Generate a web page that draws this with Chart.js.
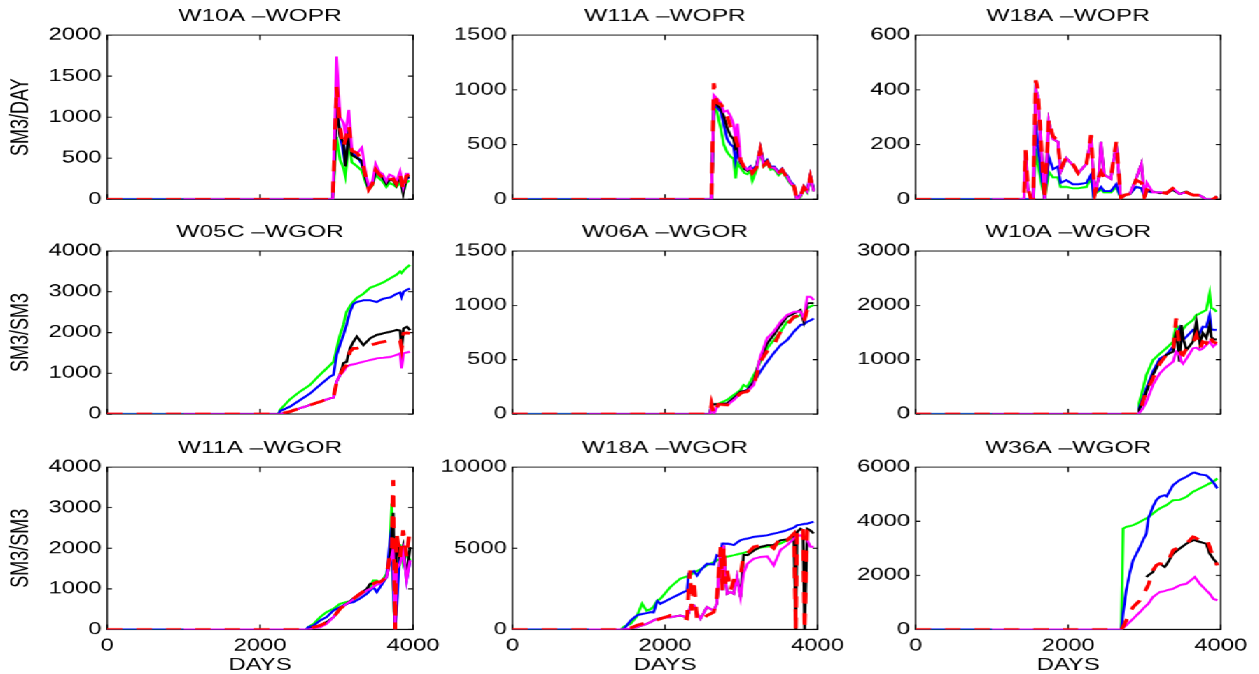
<!DOCTYPE html>
<html>
<head>
<meta charset="utf-8">
<title>WOPR / WGOR</title>
<script src="https://cdn.jsdelivr.net/npm/chart.js@4.4.1/dist/chart.umd.min.js"></script>
<style>
    html, body { margin: 0; padding: 0; background: #fff; overflow: hidden; }
    /* charts are laid out narrow and stretched sideways, like the printed plots */
    #sheet { position: absolute; left: 0; top: 0; width: 900px; height: 674px; transform: scaleX(1.4); transform-origin: 0 0; }
    #sheet canvas { position: absolute; }
</style>
</head>
<body>
<div id="sheet"></div>
<script>
// ============================================
// DATA (days, then one array per run colour)
// ============================================

const xTickValues = [0, 2000, 4000];

// W10A - WOPR
const w10aOprDays    = [0, 1000, 2950, 3000, 3045, 3090, 3115, 3160, 3200, 3270, 3330, 3380, 3420, 3470, 3510, 3560, 3600, 3650, 3690, 3740, 3780, 3830, 3870, 3910, 3950];
const w10aOprGreen   = [0, 0, 0, 760, 480, 380, 280, 700, 450, 400, 350, 200, 120, 170, 300, 250, 220, 150, 200, 180, 150, 210, 80, 200, 230];
const w10aOprBlue    = [0, 0, 0, 1170, 800, 560, 420, 850, 560, 520, 430, 260, 130, 200, 350, 290, 260, 200, 230, 250, 180, 280, 100, 240, 270];
const w10aOprBlack   = [null, 0, 0, 1120, 760, 700, 400, 800, 540, 500, 470, 250, 130, 180, 360, 300, 270, 190, 240, 230, 170, 300, 70, 260, 280];
const w10aOprRed     = [0, 0, 0, 1370, 870, 640, 720, 900, 590, 560, 480, 280, 120, 190, 360, 300, 270, 200, 240, 250, 190, 310, 110, 280, 300];
const w10aOprMagenta = [null, 0, 0, 1740, 1000, 930, 800, 1090, 600, 560, 630, 320, 160, 220, 430, 330, 310, 220, 300, 280, 210, 340, 150, 310, 310];

// W11A - WOPR
const w11aOprDays    = [0, 1000, 2610, 2640, 2680, 2730, 2770, 2815, 2860, 2900, 2925, 2950, 2990, 3040, 3080, 3120, 3145, 3200, 3250, 3295, 3340, 3385, 3430, 3490, 3535, 3560, 3600, 3645, 3690, 3730, 3775, 3820, 3865, 3905, 3950];
const w11aOprGreen   = [0, 0, 0, 850, 800, 650, 500, 430, 390, 370, 190, 330, 290, 240, 230, 260, 170, 270, 440, 300, 330, 270, 280, 220, 250, 230, 190, 140, 110, 0, 20, 100, 60, 200, 70];
const w11aOprBlue    = [0, 0, 0, 850, 840, 800, 680, 550, 500, 480, 350, 440, 330, 290, 270, 300, 270, 310, 470, 330, 360, 300, 300, 250, 280, 250, 220, 160, 130, 10, 40, 120, 80, 220, 90];
const w11aOprBlack   = [null, 0, 0, 900, 860, 830, 760, 650, 580, 550, 460, 470, 340, 280, 260, 290, 240, 300, 460, 320, 350, 290, 290, 240, 270, 240, 210, 150, 120, 0, 30, 110, 70, 210, 80];
const w11aOprRed     = [0, 0, 0, 1060, 880, 870, 830, 760, 660, 620, 560, 500, 360, 290, 260, 290, 240, 290, 450, 310, 340, 280, 290, 240, 270, 240, 200, 150, 120, 0, 30, 110, 70, 200, 70];
const w11aOprMagenta = [null, 0, 0, 950, 920, 880, 800, 810, 760, 680, 560, 690, 360, 300, 270, 290, 250, 290, 450, 310, 340, 290, 290, 240, 270, 240, 210, 150, 120, 0, 30, 110, 70, 210, 70];

// W18A - WOPR
const w18aOprDays    = [0, 1000, 1420, 1440, 1470, 1510, 1540, 1575, 1600, 1690, 1745, 1800, 1865, 1900, 1975, 2060, 2130, 2240, 2300, 2330, 2350, 2400, 2430, 2470, 2560, 2630, 2690, 2740, 2810, 2890, 2960, 3000, 3030, 3110, 3200, 3290, 3370, 3460, 3550, 3640, 3720, 3810, 3900, 3950];
const w18aOprGreen   = [0, 0, 0, 0, 0, 0, 0, 185, 130, 0, 100, 80, 80, 45, 45, 40, 40, 45, 80, 15, 20, 30, 35, 25, 25, 45, 5, 15, 20, 45, 40, 10, 30, 25, 25, 22, 35, 20, 25, 15, 15, 0, 0, 10];
const w18aOprBlue    = [0, 0, 0, 0, 0, 0, 0, 285, 200, 0, 155, 110, 120, 60, 70, 55, 55, 60, 90, 15, 25, 35, 45, 30, 30, 55, 5, 15, 20, 45, 40, 10, 30, 25, 25, 22, 35, 20, 25, 15, 15, 0, 0, 10];
const w18aOprBlack   = [null, 0, 0, 170, 40, 0, 0, 400, 380, 0, 285, 220, 210, 100, 150, 125, 95, 130, 225, 80, 20, 80, 210, 90, 75, 205, 5, 15, 20, 75, 130, 10, 35, 28, 22, 25, 35, 20, 28, 15, 15, 0, 0, 10];
const w18aOprRed     = [0, 0, 0, 180, 45, 0, 0, 435, 405, 0, 290, 230, 215, 110, 155, 130, 95, 130, 235, 90, 20, 80, 100, 80, 80, 210, 5, 15, 20, 70, 60, 10, 35, 25, 25, 22, 40, 20, 25, 15, 15, 0, 0, 10];
const w18aOprMagenta = [null, 0, 0, 170, 40, 0, 0, 400, 380, 0, 285, 220, 210, 100, 150, 125, 95, 130, 225, 80, 20, 80, 210, 90, 75, 205, 5, 15, 20, 75, 130, 10, 60, 25, 25, 22, 40, 20, 25, 15, 15, 0, 0, 10];

// W05C - WGOR
const w05cGorDays    = [0, 1000, 2240, 2260, 2390, 2520, 2650, 2780, 2915, 2960, 3000, 3045, 3090, 3130, 3175, 3220, 3265, 3350, 3440, 3525, 3610, 3700, 3785, 3830, 3850, 3875, 3920, 3960];
const w05cGorGreen   = [0, 0, 0, 100, 360, 550, 710, 960, 1200, 1284, 1600, 1940, 2200, 2510, 2650, 2760, 2850, 2950, 3100, 3160, 3230, 3330, 3420, 3500, 3460, 3520, 3600, 3660];
const w05cGorBlue    = [0, 0, 0, 70, 180, 340, 500, 710, 920, 960, 1450, 1700, 1940, 2190, 2510, 2700, 2750, 2790, 2790, 2750, 2830, 2860, 2950, 2980, 2870, 3000, 3050, 3080];
const w05cGorBlack   = [null, 0, 0, 0, 60, 140, 220, 300, 385, 400, 793, 960, 1250, 1280, 1612, 1775, 1900, 1690, 1860, 1940, 1980, 2020, 2060, 2050, 1610, 2100, 2140, 2060];
const w05cGorRed     = [0, 0, 0, 0, 60, 140, 220, 300, 385, 400, 793, 960, 1121, 1200, 1530, 1612, 1612, 1650, 1690, 1735, 1775, 1815, 1780, 1800, 1612, 1980, 1990, 1980];
const w05cGorMagenta = [null, 0, 0, 0, 60, 140, 220, 300, 385, 400, 793, 960, 1038, 1160, 1200, 1220, 1240, 1284, 1325, 1366, 1380, 1400, 1450, 1490, 1121, 1490, 1510, 1530];

// W06A - WGOR
const w06aGorDays    = [0, 1000, 2590, 2610, 2640, 2700, 2815, 2900, 2990, 3030, 3075, 3120, 3165, 3210, 3250, 3340, 3425, 3515, 3600, 3690, 3775, 3820, 3865, 3905, 3950];
const w06aGorGreen   = [0, 0, 0, 90, 90, 95, 130, 175, 220, 267, 250, 300, 359, 420, 481, 604, 680, 758, 849, 880, 911, 895, 972, 990, 1003];
const w06aGorBlue    = [0, 0, 0, 90, 90, 92, 98, 145, 205, 212, 220, 260, 300, 345, 390, 481, 560, 634, 680, 758, 819, 825, 849, 860, 880];
const w06aGorBlack   = [null, 0, 0, 90, 90, 92, 98, 145, 205, 212, 215, 250, 300, 420, 510, 650, 727, 819, 895, 925, 957, 849, 1018, 1020, 1020];
const w06aGorRed     = [0, 0, 0, 90, 0, 90, 83, 130, 190, 200, 205, 235, 267, 380, 481, 580, 634, 758, 819, 895, 911, 849, 957, 970, 985];
const w06aGorMagenta = [null, 0, 0, 90, 0, 90, 83, 128, 190, 200, 210, 235, 270, 400, 530, 700, 758, 849, 911, 940, 945, 880, 1079, 1079, 1050];

// W10A - WGOR
const w10aGorDays    = [0, 1000, 2920, 2930, 2980, 3025, 3110, 3200, 3285, 3375, 3415, 3460, 3485, 3505, 3550, 3635, 3680, 3725, 3765, 3810, 3855, 3875, 3900, 3945];
const w10aGorGreen   = [0, 0, 0, 200, 472, 718, 990, 1110, 1208, 1331, 1640, 1546, 1520, 1560, 1640, 1730, 1822, 1850, 1883, 1914, 2220, 1950, 1940, 1883];
const w10aGorBlue    = [0, 0, 0, 104, 300, 472, 780, 1018, 1086, 1240, 1423, 1576, 1450, 1360, 1423, 1546, 1520, 1490, 1608, 1600, 1822, 1560, 1550, 1546];
const w10aGorBlack   = [null, 0, 0, 74, 250, 410, 718, 963, 1086, 1147, 1515, 963, 1640, 1400, 1178, 1331, 1699, 1300, 1490, 1400, 1640, 1420, 1380, 1370];
const w10aGorRed     = [0, 0, 0, 0, 230, 410, 656, 926, 1086, 1147, 1760, 1208, 1100, 1086, 1208, 1300, 1454, 1208, 1330, 1300, 1454, 1380, 1330, 1300];
const w10aGorMagenta = [null, 0, 0, 0, 104, 227, 533, 748, 865, 963, 1147, 1086, 960, 926, 1018, 1208, 1220, 1178, 1208, 1270, 1331, 1290, 1240, 1300];

// W11A - WGOR
const w11aGorDays    = [0, 1000, 2600, 2630, 2700, 2785, 2870, 2960, 3045, 3130, 3220, 3305, 3395, 3440, 3480, 3525, 3570, 3655, 3690, 3720, 3740, 3765, 3785, 3830, 3870, 3915, 3960];
const w11aGorGreen   = [0, 0, 0, 60, 140, 305, 428, 510, 634, 675, 716, 840, 963, 1050, 1210, 1210, 1128, 1375, 1704, 3103, 1000, 0, 700, 2100, 1621, 1870, 1704];
const w11aGorBlue    = [0, 0, 0, 58, 100, 222, 305, 470, 550, 634, 675, 760, 880, 963, 1045, 920, 1045, 1290, 2033, 2527, 1100, 0, 500, 2033, 1950, 1210, 1704];
const w11aGorBlack   = [null, 0, 0, 0, 58, 100, 181, 305, 510, 634, 760, 880, 1000, 1128, 1128, 1170, 1170, 1290, 1600, 2200, 2872, 0, 2197, 1700, 2033, 1290, 2033];
const w11aGorRed     = [0, 0, 0, 0, 58, 100, 181, 305, 510, 634, 760, 880, 1000, 1128, 1128, 1170, 1170, 1290, 1786, 2000, 3679, 0, 2360, 1786, 2444, 1786, 2527];
const w11aGorMagenta = [null, 0, 0, 0, 30, 58, 140, 305, 510, 634, 740, 840, 963, 1000, 1050, 1100, 1128, 1290, 1621, 1800, 2000, 0, 1500, 1621, 1950, 1210, 1704];

// W18A - WGOR
const w18aGorDays    = [0, 1000, 1420, 1470, 1550, 1630, 1700, 1760, 1810, 1850, 1900, 1940, 2070, 2200, 2290, 2310, 2330, 2350, 2380, 2420, 2465, 2550, 2640, 2680, 2730, 2750, 2770, 2790, 2815, 2860, 2900, 2945, 2990, 3030, 3080, 3165, 3250, 3340, 3425, 3515, 3600, 3690, 3715, 3730, 3775, 3810, 3830, 3865, 3905, 3950];
const w18aGorGreen   = [0, 0, 0, 200, 350, 800, 1584, 1150, 1250, 1400, 1790, 1890, 2610, 3130, 3270, 3300, 3350, 3400, 3540, 3600, 3700, 3950, 4150, 4250, 4360, 4400, 4420, 4450, 4480, 4530, 4570, 4620, 4680, 4720, 4770, 4900, 5040, 5100, 5180, 5300, 5494, 5600, null, null, null, null, null, null, null, null];
const w18aGorBlue    = [0, 0, 0, 80, 556, 864, 960, 1000, 1070, 1050, 1750, 1584, 1900, 2200, 2407, 3436, 3500, 3540, 3600, 3330, 3640, 4050, 4000, 4570, 4470, 5290, 5300, 5280, 5290, 5250, 5190, 5350, 5494, 5550, 5600, 5700, 5750, 5800, 5906, 6000, 6110, 6280, 6350, 6420, 6450, 6480, 6500, 6520, 6580, 6626];
const w18aGorBlack   = [null, 0, 0, 20, 60, 150, 250, 350, 450, 560, 660, 700, 760, 860, 760, 1000, 1380, 1500, 1480, 1000, 660, 1380, 1170, 1584, 4980, 2407, 5190, 3230, 2200, 2300, 2200, 3230, 1996, 4600, 4570, 4870, 5082, 5190, 5190, 5494, 5550, 5800, 0, 6000, 6200, 6100, 0, 6200, 6100, 5906];
const w18aGorRed     = [0, 0, 0, 50, 100, 250, 350, 400, 450, 550, 600, 660, 860, 760, 660, 2500, 3640, 1170, 3025, 556, 556, 860, 1070, 1996, 5082, 2407, 5082, 2820, 3640, 2400, 3025, 3000, 3300, 4600, 4700, 5082, 5190, 5290, 5000, 5700, 5494, 5906, 0, 6110, 6317, 6200, 0, 6110, 6300, 5906];
const w18aGorMagenta = [null, 0, 0, 20, 60, 150, 250, 350, 450, 560, 660, 700, 760, 860, 760, 1000, 1380, 1500, 1480, 1000, 660, 1380, 1170, 1584, 4980, 2407, 5190, 3230, 2200, 2300, 2200, 3230, 1996, 3436, 4050, 4360, 4450, 4500, 3950, 4900, 5190, 5600, 5700, 5750, 5800, 5700, 5600, 5500, 5100, 5082];

// W36A - WGOR
const w36aGorDays    = [0, 1000, 2696, 2720, 2760, 2805, 2850, 2895, 2940, 2980, 3025, 3050, 3110, 3155, 3200, 3265, 3290, 3375, 3460, 3550, 3635, 3660, 3725, 3810, 3855, 3900, 3955];
const w36aGorGreen   = [0, 0, 0, 3728, 3790, 3820, 3852, 3910, 3976, 4040, 4100, 4150, 4284, 4380, 4470, 4560, 4593, 4778, 4790, 4901, 5087, 5120, 5210, 5334, 5400, 5457, 5580];
const w36aGorBlue    = [0, 0, 0, 600, 1445, 2060, 2555, 2800, 3050, 3297, 3544, 4100, 4531, 4778, 4901, 4963, 4920, 5334, 5520, 5642, 5790, 5800, 5730, 5700, 5580, 5450, 5210];
const w36aGorBlack   = [null, null, null, null, null, null, null, null, null, null, 1938, 2000, 2123, 2370, 2432, 2309, 2400, 2802, 2988, 3173, 3297, 3300, 3235, 3173, 2802, 2617, 2432];
const w36aGorRed     = [0, 0, 0, 100, 333, 580, 827, 950, 1074, 1290, 1506, 1650, 2185, 2370, 2432, 2400, 2420, 2925, 3050, 3173, 3420, 3400, 3297, 3360, 3050, 2679, 2370];
const w36aGorMagenta = [null, 0, 0, 60, 150, 270, 395, 520, 640, 765, 890, 950, 1197, 1290, 1383, 1420, 1445, 1506, 1630, 1692, 1877, 1938, 1692, 1445, 1321, 1136, 1074];

// ============================================
// LAYOUT
// ============================================
const STRETCH = 1.4;                       // matches #sheet scaleX
const FONT = '"Liberation Sans", Arial, Helvetica, sans-serif';
const NARROW = '"Liberation Sans Narrow", "Arial Narrow", "Liberation Sans", sans-serif';
const colPlotLeft  = [107, 512, 916];      // screen px
const colPlotRight = [413, 817, 1221];
const rowPlotTop    = [35, 251, 467];
const rowPlotBottom = [199, 414, 629];
const TITLE_SIZE = 17.5;
const TITLE_GAP = 8;
const TITLE_H = TITLE_SIZE * 1.2 + TITLE_GAP;

// first dataset is painted last, so red ends up on top
const runColors = ['#ff0000', '#ff00ff', '#000000', '#0000ff', '#00ff00'];

const panels = [
    { title: 'W10A \u2013WOPR', row: 0, col: 0, yMax: 2000,  yStep: 500,  yLabel: 'SM3/DAY', days: w10aOprDays, runs: [w10aOprRed, w10aOprMagenta, w10aOprBlack, w10aOprBlue, w10aOprGreen] },
    { title: 'W11A \u2013WOPR', row: 0, col: 1, yMax: 1500,  yStep: 500,  yLabel: '',        days: w11aOprDays, runs: [w11aOprRed, w11aOprMagenta, w11aOprBlack, w11aOprBlue, w11aOprGreen] },
    { title: 'W18A \u2013WOPR', row: 0, col: 2, yMax: 600,   yStep: 200,  yLabel: '',        days: w18aOprDays, runs: [w18aOprRed, w18aOprMagenta, w18aOprBlack, w18aOprBlue, w18aOprGreen] },
    { title: 'W05C \u2013WGOR', row: 1, col: 0, yMax: 4000,  yStep: 1000, yLabel: 'SM3/SM3', days: w05cGorDays, runs: [w05cGorRed, w05cGorMagenta, w05cGorBlack, w05cGorBlue, w05cGorGreen] },
    { title: 'W06A \u2013WGOR', row: 1, col: 1, yMax: 1500,  yStep: 500,  yLabel: '',        days: w06aGorDays, runs: [w06aGorRed, w06aGorMagenta, w06aGorBlack, w06aGorBlue, w06aGorGreen] },
    { title: 'W10A \u2013WGOR', row: 1, col: 2, yMax: 3000,  yStep: 1000, yLabel: '',        days: w10aGorDays, runs: [w10aGorRed, w10aGorMagenta, w10aGorBlack, w10aGorBlue, w10aGorGreen] },
    { title: 'W11A \u2013WGOR', row: 2, col: 0, yMax: 4000,  yStep: 1000, yLabel: 'SM3/SM3', days: w11aGorDays, runs: [w11aGorRed, w11aGorMagenta, w11aGorBlack, w11aGorBlue, w11aGorGreen] },
    { title: 'W18A \u2013WGOR', row: 2, col: 1, yMax: 10000, yStep: 5000, yLabel: '',        days: w18aGorDays, runs: [w18aGorRed, w18aGorMagenta, w18aGorBlack, w18aGorBlue, w18aGorGreen] },
    { title: 'W36A \u2013WGOR', row: 2, col: 2, yMax: 6000,  yStep: 2000, yLabel: '',        days: w36aGorDays, runs: [w36aGorRed, w36aGorMagenta, w36aGorBlack, w36aGorBlue, w36aGorGreen] },
];

// ============================================
// FRAME: box + inward ticks on all four sides
// ============================================
const frameTicks = {
    id: 'frameTicks',
    beforeDatasetsDraw(chart) {
        const { ctx, chartArea: a, scales } = chart;
        ctx.save();
        ctx.strokeStyle = '#000';
        ctx.lineWidth = 1;
        ctx.strokeRect(a.left, a.top, a.right - a.left, a.bottom - a.top);
        ctx.beginPath();
        xTickValues.forEach(v => {
            const px = scales.x.getPixelForValue(v);
            ctx.moveTo(px, a.bottom); ctx.lineTo(px, a.bottom - 5);
            ctx.moveTo(px, a.top);    ctx.lineTo(px, a.top + 5);
        });
        scales.y.ticks.forEach(t => {
            const py = scales.y.getPixelForValue(t.value);
            ctx.moveTo(a.left, py);  ctx.lineTo(a.left + 3.5, py);
            ctx.moveTo(a.right, py); ctx.lineTo(a.right - 3.5, py);
        });
        ctx.stroke();
        ctx.restore();
    }
};

function runDataset(days, values, color) {
    const dashed = color === '#ff0000';
    return {
        data: days.map((d, i) => ({ x: d, y: values[i] })),
        borderColor: color,
        borderWidth: dashed ? 2.8 : 2,
        borderDash: dashed ? [11, 10] : [],
        pointRadius: 0,
        tension: 0,
        fill: false,
        spanGaps: false,
    };
}

// ============================================
// BUILD
// ============================================
Chart.defaults.font.family = FONT;
Chart.defaults.color = '#000';

const sheet = document.getElementById('sheet');

panels.forEach(p => {
    const left = colPlotLeft[p.col] / STRETCH;
    const right = colPlotRight[p.col] / STRETCH;
    const plotW = right - left;
    const top = rowPlotTop[p.row];
    const plotH = rowPlotBottom[p.row] - top;
    const bottomRow = p.row === 2;

    const yW = p.col === 0 ? left : 60;
    // room under the box must cover half of the "0" label plus its padding
    const xH = bottomRow ? 46 : 18;
    const W = Math.ceil(yW + plotW + 25);
    const H = Math.ceil(TITLE_H + plotH + xH);

    const canvas = document.createElement('canvas');
    canvas.width = W;
    canvas.height = H;
    canvas.style.left = (left - yW) + 'px';
    canvas.style.top = (top - TITLE_H) + 'px';
    sheet.appendChild(canvas);

    new Chart(canvas.getContext('2d'), {
        type: 'line',
        data: {
            datasets: p.runs.map((vals, i) => runDataset(p.days, vals, runColors[i]))
        },
        options: {
            responsive: false,
            devicePixelRatio: STRETCH,
            animation: false,
            events: [],
            layout: {
                padding: { left: 0, top: 0, right: W - yW - plotW, bottom: H - TITLE_H - plotH - xH }
            },
            plugins: {
                legend: { display: false },
                tooltip: { enabled: false },
                title: {
                    display: true,
                    text: p.title,
                    fullSize: false,
                    color: '#000',
                    font: { family: FONT, size: TITLE_SIZE, weight: 'normal' },
                    padding: { top: 0, bottom: TITLE_GAP }
                }
            },
            scales: {
                x: {
                    type: 'linear',
                    min: 0,
                    max: 4000,
                    grid: { display: false, drawTicks: false },
                    border: { display: false },
                    ticks: {
                        display: bottomRow,
                        stepSize: 2000,
                        padding: 6,
                        maxRotation: 0,
                        autoSkip: false,
                        color: '#000',
                        font: { size: 17 },
                        callback: v => String(v)
                    },
                    title: {
                        display: bottomRow,
                        text: 'DAYS',
                        color: '#000',
                        font: { size: 17 },
                        padding: 0
                    },
                    afterFit: s => { s.height = xH; }
                },
                y: {
                    min: 0,
                    max: p.yMax,
                    grid: { display: false, drawTicks: false },
                    border: { display: false },
                    ticks: {
                        stepSize: p.yStep,
                        padding: 4,
                        color: '#000',
                        font: { size: 17 },
                        callback: v => String(v)
                    },
                    title: {
                        display: p.yLabel !== '',
                        text: p.yLabel,
                        color: '#000',
                        font: { family: NARROW, size: 18 },
                        padding: { top: 4, bottom: 0 }
                    },
                    afterFit: s => { s.width = yW; }
                }
            }
        },
        plugins: [frameTicks]
    });
});
</script>
</body>
</html>
